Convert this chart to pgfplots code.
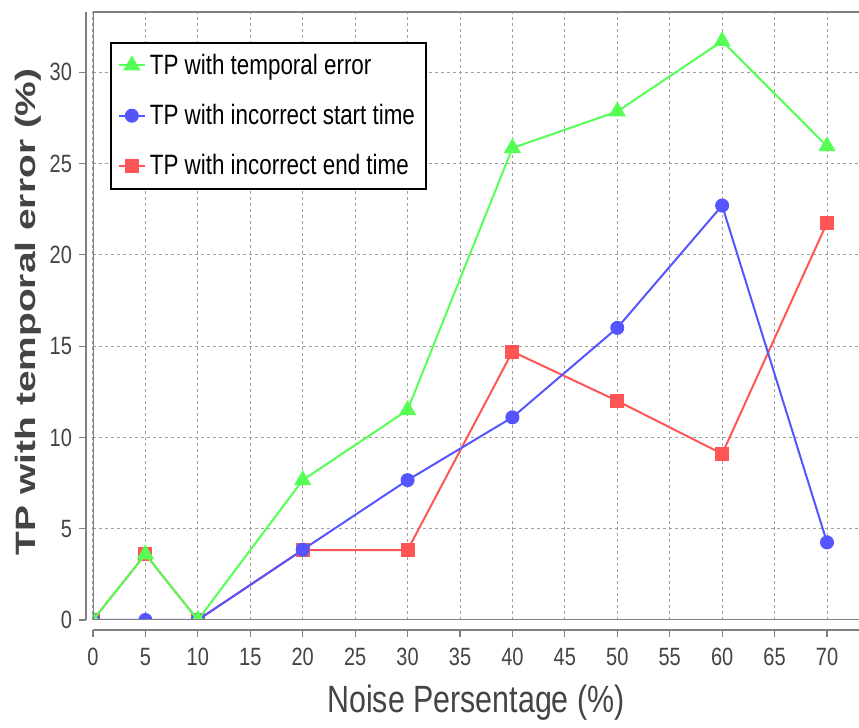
\documentclass[border=0pt]{standalone}
\usepackage{fontspec}
\usepackage{pgfplots}
\pgfplotsset{compat=1.18}
\setmainfont{Liberation Sans}
\newfontfamily\tickfont[FakeStretch=0.8]{Liberation Sans}
\newfontfamily\ylabfont[FakeStretch=1.39]{Liberation Sans}
\definecolor{jgreen}{HTML}{55FF55}
\definecolor{jblue}{HTML}{5555FF}
\definecolor{jred}{HTML}{FF5555}
\definecolor{axgray}{HTML}{808080}
\definecolor{txgray}{HTML}{444444}

\begin{document}
\begin{tikzpicture}
\useasboundingbox (-46.5pt,-54pt) rectangle (383pt,310pt);
\begin{axis}[
  scale only axis, width=383pt, height=304pt,
  xmin=0, xmax=73.05, ymin=0, ymax=33.3,
  xtick={0,5,...,70}, ytick={0,5,...,30},
  axis x line*=bottom, axis y line*=left,
  axis x line shift=5pt, axis y line shift=3.5pt,
  axis line style={axgray, line width=0.8pt, -},
  tick align=outside, major tick length=3.5pt,
  tick style={axgray, line width=0.6pt},
  grid=major,
  major grid style={gray!75, dash pattern=on 1.5pt off 1.5pt, line width=0.5pt},
  /pgf/number format/assume math mode=true,
  ticklabel style={font=\tickfont\fontsize{12.5}{14}\selectfont, text=txgray},
  xticklabel style={yshift=-2pt},
  xlabel={Noise Persentage (\%)},
  ylabel={TP with temporal error (\%)},
  xlabel style={font=\tickfont\fontsize{19}{21}\selectfont, text=txgray, at={(axis description cs:0.5,0)}, yshift=-29pt},
  ylabel style={font=\ylabfont\bfseries\fontsize{14}{16}\selectfont, text=txgray, at={(ticklabel cs:0.507,-2.5pt)}},
  clip marker paths=true,
  reverse legend,
  legend style={at={(0.022,0.951)}, anchor=north west, draw=black, line width=1pt,
    font=\tickfont\fontsize{14}{16}\selectfont, row sep=9.5pt, inner sep=3.5pt,
    nodes={inner xsep=2pt}},
  legend image code/.code={\draw[#1] (0pt,0pt) -- (13pt,0pt); \draw[#1, mark repeat=2, mark phase=2] plot coordinates {(0pt,0pt) (6.5pt,0pt) (13pt,0pt)};},
  legend cell align=left,
]
\addplot[jred, line width=1pt, mark=square*, mark size=3pt, mark options={solid}] coordinates {
(0,0) (5,3.6) (10,0) (20,3.83) (30,3.83) (40,14.7) (50,12.0) (60,9.1) (70,21.75)};
\addlegendentry{TP with incorrect end time}
\addplot[jblue, line width=1pt, mark=*, mark size=3pt] coordinates {
(0,0) (5,0) (10,0) (20,3.85) (30,7.66) (40,11.1) (50,16.0) (60,22.7) (70,4.25)};
\addlegendentry{TP with incorrect start time}
\addplot[jgreen, line width=1pt, mark=triangle*, mark size=4pt] coordinates {
(0,0) (5,3.6) (10,0) (20,7.66) (30,11.5) (40,25.85) (50,27.85) (60,31.7) (70,25.95)};
\addlegendentry{TP with temporal error}
\draw[axgray, line width=0.6pt] (rel axis cs:0,0) -- (rel axis cs:0,1) -- (rel axis cs:1,1);
\draw[axgray, line width=0.6pt] (rel axis cs:0,0) -- (rel axis cs:1,0);
\end{axis}
\end{tikzpicture}
\end{document}
